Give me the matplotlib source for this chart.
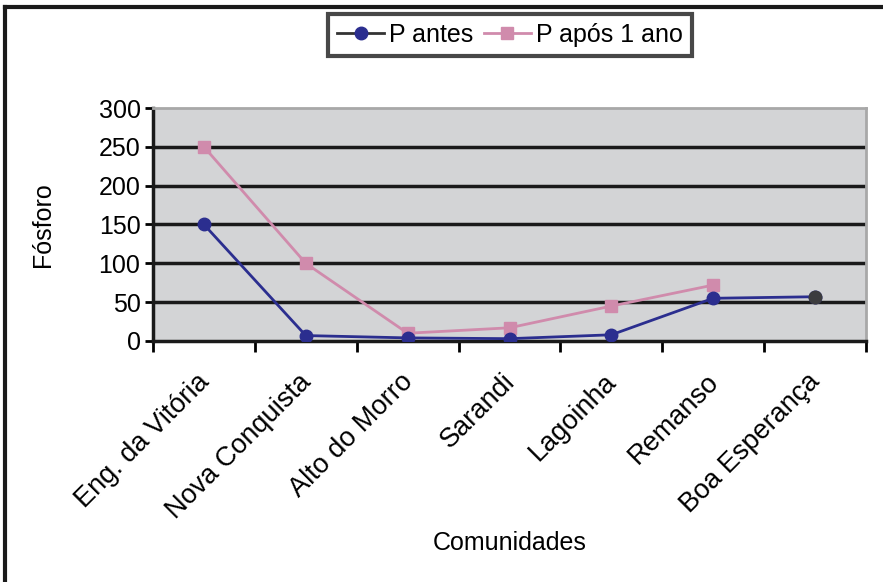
import matplotlib.pyplot as plt
import matplotlib.transforms as mtransforms
from matplotlib.lines import Line2D
import numpy as np

plt.rcParams['font.family'] = ['Liberation Sans', 'DejaVu Sans']

comunidades = ["Eng. da Vitória", "Nova Conquista", "Alto do Morro", "Sarandi",
               "Lagoinha", "Remanso", "Boa Esperança"]
p_antes = [150, 7, 4, 3, 8, 55, 57]
p_apos = [250, 100, 10, 17, 45, 72, np.nan]
y_ticks = [0, 50, 100, 150, 200, 250, 300]

azul = '#2b2e8f'
rosa = '#d08bac'

fig = plt.figure(figsize=(8.83, 5.82), dpi=100)
ax = fig.add_axes([153/883, 1 - 341/582, (866 - 153)/883, (341 - 108)/582])
ax.set_facecolor('#d3d4d6')

x = np.arange(len(comunidades))
ax.plot(x, p_antes, color=azul, lw=2, marker='o', ms=9, zorder=4)
ax.plot(x, p_apos, color=rosa, lw=2, marker='s', ms=9, zorder=3)
# ultimo ponto aparece em cinza escuro no original
ax.plot(x[-1:], p_antes[-1:], 'o', color='#3c3c3e', ms=9, zorder=5)

ax.set_xlim(-0.5, len(comunidades) - 0.5)
ax.set_ylim(0, 300)
ax.set_yticks(y_ticks)
ax.tick_params(axis='y', labelsize=18, length=6, width=2, direction='out', pad=3)
for yv in y_ticks[1:-1]:
    ax.axhline(yv, color='#1a1a1a', lw=2.5, zorder=1)

ax.set_xticks(np.arange(-0.5, len(comunidades)), minor=False)
ax.set_xticklabels([])
ax.set_xticks(x, minor=True)
ax.set_xticklabels(comunidades, minor=True, rotation=45, ha='right',
                   rotation_mode='anchor', fontsize=19.5)
ax.tick_params(axis='x', which='major', length=8, width=2, direction='out')
ax.tick_params(axis='x', which='minor', length=0, pad=20)
offset = mtransforms.ScaledTranslation(-0.08, 0, fig.dpi_scale_trans)
for lbl in ax.get_xticklabels(minor=True):
    lbl.set_transform(lbl.get_transform() + offset)

for s in ['left', 'bottom']:
    ax.spines[s].set_color('#1a1a1a')
    ax.spines[s].set_linewidth(2.5)
for s in ['top', 'right']:
    ax.spines[s].set_color('#a8a8a8')
    ax.spines[s].set_linewidth(2)

ax.set_ylabel('Fósforo', fontsize=18, labelpad=31)
fig.text(510/883, 1 - 543/582, 'Comunidades', fontsize=18, ha='center', va='center')

handles = [Line2D([], [], color='#333333', lw=2, marker='o', ms=9,
                  markerfacecolor=azul, markeredgecolor=azul),
           Line2D([], [], color=rosa, lw=2, marker='s', ms=9)]
leg = fig.legend(handles, ['P antes', 'P após 1 ano'], loc='center',
                 bbox_to_anchor=(510/883, 1 - 35/582), ncol=2, fontsize=18,
                 frameon=True, fancybox=False, handlelength=1.9,
                 handletextpad=0.2, columnspacing=0.4, borderpad=0.35,
                 borderaxespad=0)
leg.get_frame().set_edgecolor('#1a1a1a')
leg.get_frame().set_linewidth(3)

# moldura da figura (so esquerda e topo visiveis)
fig.add_artist(Line2D([5/883, 5/883], [0, 1 - 7/582], color='#1a1a1a', lw=3,
                      transform=fig.transFigure))
fig.add_artist(Line2D([5/883, 1], [1 - 7/582, 1 - 7/582], color='#1a1a1a', lw=3,
                      transform=fig.transFigure))

fig.savefig('out.png', dpi=100)
